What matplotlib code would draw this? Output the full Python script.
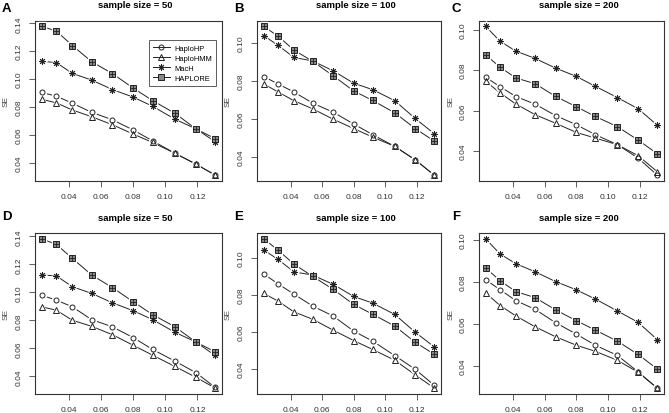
import matplotlib
matplotlib.use("Agg")
import matplotlib.pyplot as plt
from matplotlib.lines import Line2D
import numpy as np

plt.rcParams['font.family'] = ['Liberation Sans Narrow', 'Liberation Sans', 'DejaVu Sans']

# ---- data ----
maf = [0.023, 0.032, 0.042, 0.054, 0.067, 0.080, 0.092, 0.106, 0.119, 0.131]
series_names = ["HaploHP", "HaploHMM", "MacH", "HAPLORE"]
panel_letters = ["A", "B", "C", "D", "E", "F"]
panel_titles = ["sample size = 50", "sample size = 100", "sample size = 200",
                "sample size = 50", "sample size = 100", "sample size = 200"]

A_haplohp  = [0.0904, 0.0877, 0.0827, 0.0761, 0.0708, 0.0634, 0.0557, 0.0467, 0.0390, 0.0311]
A_haplohmm = [0.0855, 0.0829, 0.0778, 0.0730, 0.0672, 0.0605, 0.0545, 0.0467, 0.0390, 0.0311]
A_mach     = [0.1128, 0.1118, 0.1041, 0.0993, 0.0925, 0.0870, 0.0805, 0.0712, 0.0643, 0.0551]
A_haplore  = [0.1378, 0.1345, 0.1241, 0.1125, 0.1039, 0.0935, 0.0846, 0.0754, 0.0643, 0.0573]

B_haplohp  = [0.0823, 0.0784, 0.0742, 0.0683, 0.0635, 0.0573, 0.0517, 0.0455, 0.0384, 0.0304]
B_haplohmm = [0.0784, 0.0742, 0.0696, 0.0653, 0.0598, 0.0549, 0.0504, 0.0455, 0.0384, 0.0304]
B_mach     = [0.1038, 0.0988, 0.0924, 0.0905, 0.0853, 0.0788, 0.0754, 0.0696, 0.0602, 0.0522]
B_haplore  = [0.1087, 0.1036, 0.0963, 0.0903, 0.0827, 0.0747, 0.0697, 0.0632, 0.0549, 0.0483]

C_haplohp  = [0.0764, 0.0718, 0.0669, 0.0632, 0.0575, 0.0530, 0.0481, 0.0431, 0.0365, 0.0281]
C_haplohmm = [0.0744, 0.0687, 0.0632, 0.0580, 0.0537, 0.0492, 0.0464, 0.0431, 0.0377, 0.0298]
C_mach     = [0.1016, 0.0942, 0.0894, 0.0858, 0.0810, 0.0769, 0.0720, 0.0664, 0.0609, 0.0528]
C_haplore  = [0.0875, 0.0814, 0.0761, 0.0733, 0.0670, 0.0619, 0.0571, 0.0520, 0.0454, 0.0387]

D_haplohp  = [0.0978, 0.0944, 0.0896, 0.0805, 0.0753, 0.0676, 0.0592, 0.0508, 0.0426, 0.0321]
D_haplohmm = [0.0896, 0.0872, 0.0800, 0.0757, 0.0697, 0.0621, 0.0551, 0.0470, 0.0393, 0.0316]
D_mach     = [0.1124, 0.1117, 0.1040, 0.0992, 0.0925, 0.0868, 0.0805, 0.0714, 0.0645, 0.0549]
D_haplore  = [0.1381, 0.1342, 0.1242, 0.1124, 0.1033, 0.0932, 0.0841, 0.0753, 0.0645, 0.0575]

E_haplohp  = [0.0912, 0.0859, 0.0804, 0.0739, 0.0685, 0.0604, 0.0550, 0.0472, 0.0398, 0.0312]
E_haplohmm = [0.0807, 0.0766, 0.0708, 0.0668, 0.0609, 0.0553, 0.0505, 0.0447, 0.0368, 0.0297]
E_mach     = [0.1041, 0.0991, 0.0924, 0.0906, 0.0856, 0.0791, 0.0755, 0.0694, 0.0598, 0.0519]
E_haplore  = [0.1101, 0.1041, 0.0966, 0.0899, 0.0829, 0.0748, 0.0695, 0.0631, 0.0544, 0.0479]

F_haplohp  = [0.0808, 0.0761, 0.0709, 0.0668, 0.0604, 0.0550, 0.0497, 0.0448, 0.0370, 0.0293]
F_haplohmm = [0.0745, 0.0686, 0.0636, 0.0585, 0.0537, 0.0497, 0.0468, 0.0425, 0.0368, 0.0293]
F_mach     = [0.1003, 0.0931, 0.0885, 0.0847, 0.0800, 0.0761, 0.0717, 0.0660, 0.0606, 0.0524]
F_haplore  = [0.0864, 0.0804, 0.0752, 0.0724, 0.0665, 0.0614, 0.0569, 0.0516, 0.0453, 0.0384]

x_ticks = [0.04, 0.06, 0.08, 0.10, 0.12]
y_ticks_50 = [0.04, 0.06, 0.08, 0.10, 0.12, 0.14]
y_ticks_other = [0.04, 0.06, 0.08, 0.10]

panels = [
    [A_haplohp, A_haplohmm, A_mach, A_haplore],
    [B_haplohp, B_haplohmm, B_mach, B_haplore],
    [C_haplohp, C_haplohmm, C_mach, C_haplore],
    [D_haplohp, D_haplohmm, D_mach, D_haplore],
    [E_haplohp, E_haplohmm, E_mach, E_haplore],
    [F_haplohp, F_haplohmm, F_mach, F_haplore],
]
panel_yticks = [y_ticks_50, y_ticks_other, y_ticks_other,
                y_ticks_50, y_ticks_other, y_ticks_other]

# ---- layout (pixels) ----
W, H = 669, 414
col_lr = [(35, 222), (257, 441), (479, 664)]
row_tb = [(21.5, 182), (234, 395)]
se_x = [6, 228, 451]
letter_pos = [(2, 9), (234, 9), (452, 9), (2, 217), (234, 217), (452, 217)]
title_y = [6, 219]

LC = '#222222'
styles = [
    dict(marker='o', ms=3.6, mfc='none'),
    dict(marker='^', ms=4.0, mfc='none'),
    dict(marker=(8, 2, 0), ms=4.8, mfc='none'),
    dict(marker='s', ms=3.8, mfc='#888888'),
]

fig = plt.figure(figsize=(W / 100, H / 100), dpi=100)

def r_lim(v):
    lo, hi = min(v), max(v)
    pad = 0.04 * (hi - lo)
    return lo - pad, hi + pad

for i in range(6):
    r, c = divmod(i, 3)
    l, rr = col_lr[c]
    t, b = row_tb[r]
    ax = fig.add_axes([l / W, 1 - b / H, (rr - l) / W, (b - t) / H])
    allv = [v for s in panels[i] for v in s]
    ax.set_xlim(*r_lim(maf))
    ax.set_ylim(*r_lim(allv))
    for s, st in zip(panels[i], styles):
        ax.plot(maf, s, color=LC, lw=0.7, zorder=2)
        ax.plot(maf, s, ls='none', marker=st['marker'], ms=st['ms'] + 2.2,
                mfc='white', mec='white', mew=1.0, zorder=3)
        ax.plot(maf, s, ls='none', marker=st['marker'], ms=st['ms'],
                mfc=st['mfc'], mec=LC, mew=0.7, zorder=4)
        if st['marker'] == 's':
            ax.plot(maf, s, ls='none', marker='+', ms=st['ms'],
                    mec=LC, mew=0.6, zorder=5)
    ax.set_xticks(x_ticks)
    ax.set_xticklabels(["%.2f" % v for v in x_ticks])
    ax.set_yticks(panel_yticks[i])
    ax.set_yticklabels(["%.2f" % v for v in panel_yticks[i]], rotation=90, va='center')
    ax.tick_params(axis='both', direction='out', length=4, width=0.6,
                   color='#444444', labelsize=6, labelcolor='#333333', pad=5)
    for sp in ax.spines.values():
        sp.set_linewidth(0.8)
        sp.set_color('#333333')
    fig.text(se_x[c] / W, 1 - (t + b) / 2 / H, "SE", rotation=90,
             ha='center', va='center', fontsize=6, color='#444444')
    fig.text((l + rr) / 2 / W + 7 / W, 1 - title_y[r] / H, panel_titles[i],
             ha='center', va='center', fontsize=6.8, fontweight='bold',
             family=['Liberation Sans', 'DejaVu Sans'])
    lx, ly = letter_pos[i]
    fig.text(lx / W, 1 - ly / H, panel_letters[i], ha='left', va='center',
             fontsize=9.5, fontweight='bold', family=['Liberation Sans', 'DejaVu Sans'])
    if i == 0:
        handles = [Line2D([0], [0], color=LC, lw=0.7, marker=st['marker'],
                          ms=st['ms'], mfc=st['mfc'], mec=LC, mew=0.7)
                   for st in styles]
        leg = ax.legend(handles, series_names, loc='upper right',
                        bbox_to_anchor=(0.99, 0.9), fontsize=5.4,
                        frameon=True, fancybox=False, edgecolor='#333333',
                        handlelength=2.2, borderpad=0.6, labelspacing=0.35,
                        handletextpad=0.6)
        leg.get_frame().set_linewidth(0.7)

fig.savefig("out.png", dpi=100)
